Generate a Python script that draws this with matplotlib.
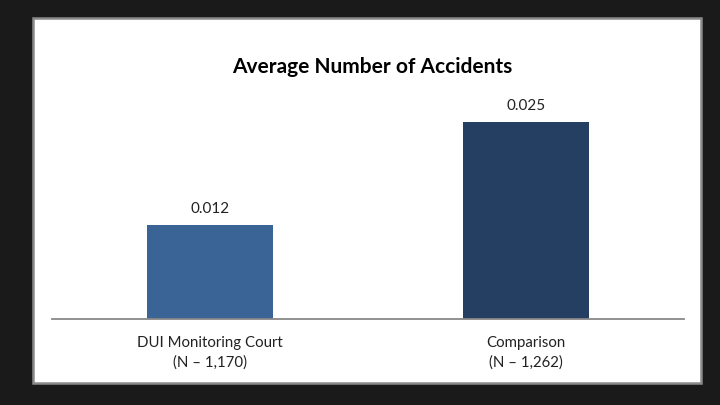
import matplotlib
matplotlib.use("Agg")
import matplotlib.pyplot as plt
from matplotlib.patches import Rectangle

categories = ["DUI Monitoring Court\n(N – 1,170)", "Comparison\n(N – 1,262)"]
values = [0.012, 0.025]
value_labels = ["0.012", "0.025"]
colors = ["#3a6495", "#253f62"]
title = "Average Number of Accidents"

plt.rcParams['font.family'] = ['Lato', 'DejaVu Sans']

fig = plt.figure(figsize=(7.2, 4.05), dpi=100)
fig.patch.set_facecolor("#1a1a1a")

# white panel
fig.patches.append(Rectangle((33/720, 1 - 383/405), 668/720, 365/405,
                             transform=fig.transFigure, facecolor="white",
                             edgecolor="#8a8a8a", linewidth=1.8, zorder=-5))

ax = fig.add_axes([52/720, 1 - 319/405, 632/720, 236/405])
ax.set_zorder(5)
ax.set_facecolor("none")
x = list(range(len(categories)))
bars = ax.bar(x, values, width=0.4, color=colors)
ax.set_xlim(-0.5, 1.5)
ax.set_ylim(0, 0.03)
for s in ["top", "right", "left"]:
    ax.spines[s].set_visible(False)
ax.spines["bottom"].set_color("#888888")
ax.spines["bottom"].set_linewidth(1.3)
ax.set_yticks([])
ax.set_xticks(x)
ax.set_xticklabels(categories, fontsize=10.8, color="#222222", linespacing=1.5)
ax.tick_params(axis="x", length=0, pad=12)
for xi, v, lab in zip(x, values, value_labels):
    ax.annotate(lab, (xi, v), xytext=(0, 6.5), textcoords="offset points",
                ha="center", va="bottom", fontsize=11, color="#222222")

fig.text(372/720, 1 - 67/405, title, ha="center", va="center",
         fontsize=15, fontweight="bold", color="black", zorder=10)

fig.savefig("out.png", dpi=100, facecolor=fig.get_facecolor())
